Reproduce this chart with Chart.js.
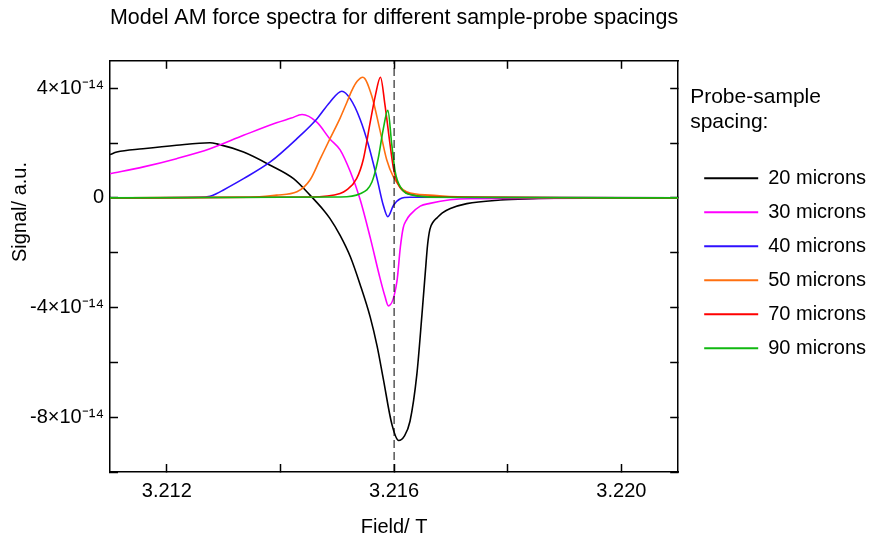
<!DOCTYPE html>
<html>
<head>
<meta charset="utf-8">
<script src="https://cdn.jsdelivr.net/npm/chart.js@4.4.1/dist/chart.umd.min.js"></script>
<style>
  html, body { margin: 0; padding: 0; background: #fff; }
</style>
</head>
<body>
<canvas id="chart" width="883" height="543"></canvas>
<script>
// field in tesla, signal in units of 1e-14 a.u.
const spacings = ["20 microns", "30 microns", "40 microns", "50 microns", "70 microns", "90 microns"];
const colors = ["#000000", "#ff00ff", "#2f10ff", "#ff7010", "#ff0000", "#10b810"];

const fieldTicks = [3.212, 3.214, 3.216, 3.218, 3.220];
const signalTicks = [-10, -8, -6, -4, -2, 0, 2, 4];

const field20 = [3.21100, 3.21112, 3.21158, 3.21217, 3.21276, 3.21288, 3.21335, 3.21382, 3.21423, 3.21452, 3.21476, 3.21487, 3.21505, 3.21523, 3.21540, 3.21558, 3.21570, 3.21581, 3.21596, 3.21608, 3.21618, 3.21628, 3.21640, 3.21649, 3.21655, 3.21659, 3.21663, 3.21669, 3.21676, 3.21685, 3.21699, 3.21728, 3.21787, 3.21845, 3.21904, 3.22100];
const signal20 = [1.58, 1.67, 1.79, 1.92, 2.01, 1.97, 1.67, 1.19, 0.70, 0.10, -0.45, -0.75, -1.37, -2.15, -3.15, -4.35, -5.40, -6.60, -8.25, -8.85, -8.69, -8.15, -6.45, -4.27, -2.70, -1.70, -1.15, -0.87, -0.72, -0.55, -0.39, -0.21, -0.08, -0.03, 0.00, 0.00];

const field30 = [3.21100, 3.21159, 3.21217, 3.21276, 3.21335, 3.21393, 3.21419, 3.21438, 3.21464, 3.21487, 3.21505, 3.21523, 3.21540, 3.21558, 3.21575, 3.21584, 3.21590, 3.21605, 3.21611, 3.21616, 3.21622, 3.21628, 3.21646, 3.21663, 3.21699, 3.21734, 3.22100];
const signal30 = [0.88, 1.13, 1.43, 1.79, 2.28, 2.74, 2.91, 3.04, 2.76, 2.15, 1.75, 0.95, -0.04, -1.45, -2.91, -3.60, -3.94, -3.05, -1.80, -1.10, -0.80, -0.62, -0.30, -0.20, -0.07, -0.03, 0.00];

const field40 = [3.21100, 3.21258, 3.21276, 3.21287, 3.21299, 3.21335, 3.21382, 3.21429, 3.21464, 3.21487, 3.21508, 3.21523, 3.21540, 3.21555, 3.21570, 3.21581, 3.21589, 3.21599, 3.21611, 3.21628, 3.22100];
const signal40 = [0.00, 0.02, 0.06, 0.15, 0.28, 0.70, 1.31, 2.16, 2.88, 3.49, 3.89, 3.61, 2.88, 1.92, 0.70, -0.27, -0.69, -0.27, -0.03, 0.02, 0.00];

const field50 = [3.21100, 3.21346, 3.21393, 3.21429, 3.21452, 3.21470, 3.21487, 3.21505, 3.21517, 3.21526, 3.21535, 3.21545, 3.21561, 3.21575, 3.21587, 3.21599, 3.21622, 3.21663, 3.21734, 3.22100];
const signal50 = [0.00, 0.02, 0.10, 0.22, 0.65, 1.42, 2.15, 2.91, 3.49, 3.93, 4.25, 4.40, 3.70, 2.48, 1.39, 0.76, 0.22, 0.10, 0.02, 0.00];

const field70 = [3.21100, 3.21452, 3.21505, 3.21516, 3.21534, 3.21546, 3.21558, 3.21567, 3.21576, 3.21584, 3.21593, 3.21599, 3.21608, 3.21622, 3.21663, 3.22100];
const signal70 = [0.00, 0.03, 0.16, 0.28, 0.70, 1.42, 2.76, 3.73, 4.40, 3.38, 1.93, 1.07, 0.46, 0.18, 0.05, 0.00];

const field90 = [3.21100, 3.21505, 3.21540, 3.21561, 3.21572, 3.21581, 3.21589, 3.21596, 3.21602, 3.21611, 3.21633, 3.21681, 3.22100];
const signal90 = [0.00, 0.03, 0.15, 0.58, 1.43, 2.52, 3.19, 1.93, 0.95, 0.40, 0.10, 0.02, 0.00];

const resonanceField = 3.216;

const fields = [field20, field30, field40, field50, field70, field90];
const signals = [signal20, signal30, signal40, signal50, signal70, signal90];

Chart.defaults.font.family = "'Liberation Sans', Arial, Helvetica, sans-serif";
Chart.defaults.font.size = 20;
Chart.defaults.color = "#000";

const toPoints = (xs, ys) => xs.map((x, i) => ({x: x, y: ys[i]}));

const datasets = spacings.map((label, i) => ({
    label: label,
    data: toPoints(fields[i], signals[i]),
    borderColor: colors[i],
    backgroundColor: colors[i],
    borderWidth: 1.6,
    pointRadius: 0,
    cubicInterpolationMode: "monotone",
    fill: false,
    order: 6 - i
}));
datasets.push({
    label: "resonance",
    data: [{x: resonanceField, y: -10}, {x: resonanceField, y: 5}],
    borderColor: "#000",
    borderWidth: 1,
    borderDash: [8, 4],
    pointRadius: 0,
    fill: false,
    order: 0
});

// y axis title sits above the centre of the axis in the original
const yTitle = {
    id: "yTitle",
    afterDraw(chart) {
        const c = chart.ctx;
        c.save();
        c.translate(20, 212);
        c.rotate(-Math.PI / 2);
        c.font = "20px 'Liberation Sans', Arial, sans-serif";
        c.fillStyle = "#000";
        c.textAlign = "center";
        c.textBaseline = "middle";
        c.fillText("Signal/ a.u.", 0, 0);
        c.restore();
    }
};

const tickGrid = {drawOnChartArea: false, tickLength: -8, tickWidth: 1.5, tickColor: "#000"};
const axisBorder = {color: "#000", width: 1.5};
const setTicks = values => scale => { scale.ticks = values.map(v => ({value: v})); };

let ctx = document.getElementById("chart").getContext("2d");

let chart = new Chart(ctx, {
    type: "line",
    data: {datasets: datasets},
    options: {
        responsive: false,
        animation: false,
        layout: {padding: {left: 0, right: 7, top: 0, bottom: 0}},
        plugins: {
            title: {
                display: true,
                text: "Model AM force spectra for different sample-probe spacings",
                fullSize: false,
                padding: {top: 5, bottom: 0},
                font: {size: 21.5, weight: "normal"},
                color: "#000"
            },
            legend: {
                position: "right",
                align: "start",
                maxWidth: 220,
                title: {
                    display: true,
                    text: ["Probe-sample", "spacing:"],
                    position: "start",
                    padding: {top: 87, bottom: 42},
                    font: {size: 21},
                    color: "#000"
                },
                labels: {
                    boxWidth: 54,
                    boxHeight: 2,
                    padding: 14,
                    font: {size: 20},
                    color: "#000",
                    filter: item => item.datasetIndex < spacings.length,
                    sort: (a, b) => a.datasetIndex - b.datasetIndex,
                    generateLabels: chart => Chart.defaults.plugins.legend.labels.generateLabels(chart)
                        .map(l => Object.assign(l, {lineWidth: 0}))
                }
            },
            tooltip: {enabled: false}
        },
        scales: {
            x: {
                type: "linear",
                position: "bottom",
                min: 3.211,
                max: 3.221,
                afterBuildTicks: setTicks(fieldTicks),
                afterFit: s => { s.height = 71; },
                border: axisBorder,
                grid: tickGrid,
                ticks: {
                    autoSkip: false,
                    maxRotation: 0,
                    padding: 15,
                    callback: v => {
                        const m = Math.round(v * 1000);
                        return m % 4 === 0 ? (m / 1000).toFixed(3) : "";
                    }
                },
                title: {display: true, text: "Field/ T", padding: {top: 0, bottom: 4}}
            },
            x2: {
                type: "linear",
                position: "top",
                min: 3.211,
                max: 3.221,
                afterBuildTicks: setTicks(fieldTicks),
                afterFit: s => { s.height = 30; },
                border: axisBorder,
                grid: tickGrid,
                ticks: {display: false}
            },
            y: {
                type: "linear",
                position: "left",
                min: -10,
                max: 5,
                afterBuildTicks: setTicks(signalTicks),
                afterFit: s => { s.width = 110; },
                border: axisBorder,
                grid: tickGrid,
                ticks: {
                    autoSkip: false,
                    padding: 14,
                    callback: v => v === 0 ? "0" : (v % 4 === 0 ? v + "\u00d710\u207b\u00b9\u2074" : "")
                }
            },
            y2: {
                type: "linear",
                position: "right",
                min: -10,
                max: 5,
                afterBuildTicks: setTicks(signalTicks),
                afterFit: s => { s.width = 12; },
                border: axisBorder,
                grid: tickGrid,
                ticks: {display: false}
            }
        }
    },
    plugins: [yTitle]
});
</script>
</body>
</html>
